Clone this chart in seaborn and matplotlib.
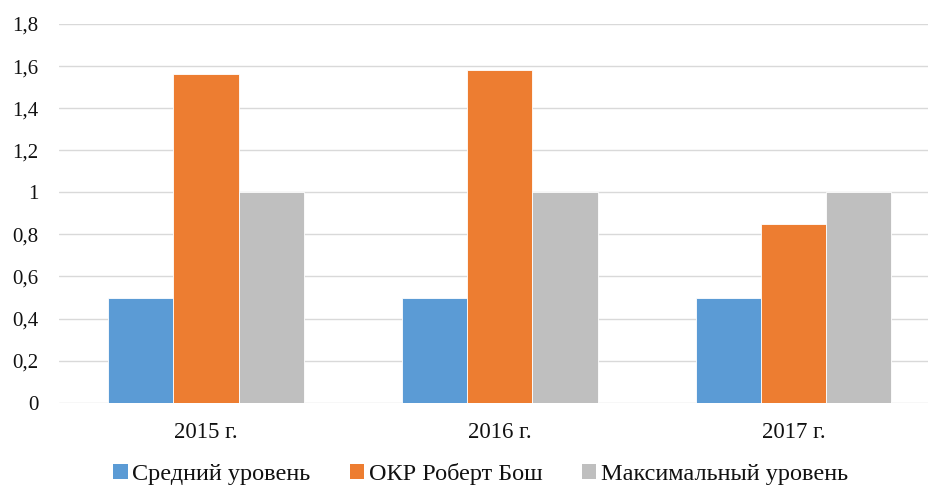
import matplotlib
matplotlib.use("Agg")
import matplotlib.pyplot as plt
from matplotlib.patches import Patch
import seaborn as sns
import pandas as pd

years = ["2015 г.", "2016 г.", "2017 г."]
series_names = ["Средний уровень", "ОКР Роберт Бош", "Максимальный уровень"]
avg_level = [0.5, 0.5, 0.5]
bosch_rnd = [1.56, 1.58, 0.85]
max_level = [1.0, 1.0, 1.0]
colors = ["#5B9BD5", "#ED7D31", "#BFBFBF"]
y_ticks = [0, 0.2, 0.4, 0.6, 0.8, 1.0, 1.2, 1.4, 1.6, 1.8]
y_tick_labels = ["0", "0,2", "0,4", "0,6", "0,8", "1", "1,2", "1,4", "1,6", "1,8"]

rows = []
for name, vals in zip(series_names, [avg_level, bosch_rnd, max_level]):
    for yr, v in zip(years, vals):
        rows.append({"year": yr, "series": name, "value": v})
df = pd.DataFrame(rows)

sns.set_theme(style="white")
plt.rcParams["font.family"] = ["Liberation Serif", "DejaVu Serif"]

fig = plt.figure(figsize=(9.29, 4.88), dpi=100)
ax = fig.add_axes([59 / 929, 85.3 / 488, 881.4 / 929, 378.7 / 488])

sns.barplot(data=df, x="year", y="value", hue="series", order=years,
            hue_order=series_names, palette=colors, width=0.667, gap=0,
            edgecolor="white", linewidth=0.6, saturation=1, ax=ax,
            legend=False, zorder=3)

ax.set_ylim(0, 1.8)
ax.set_xlim(-0.5, 2.5)
ax.set_yticks(y_ticks)
ax.set_yticklabels(y_tick_labels)
ax.yaxis.grid(True, color="#D9D9D9", linewidth=1.0, zorder=0)
ax.set_axisbelow(True)
for s in ax.spines.values():
    s.set_visible(False)
ax.tick_params(axis="y", length=0, pad=15, labelsize=15, labelcolor="#111111")
ax.tick_params(axis="x", length=0, pad=14, labelsize=16.5, labelcolor="#111111")
ax.set_xlabel("")
ax.set_ylabel("")

handles = [Patch(facecolor=c, edgecolor="none") for c in colors]
fig.legend(handles, series_names, loc="center left",
           bbox_to_anchor=(113 / 929, 1 - 474 / 488), ncol=3, frameon=False,
           fontsize=17.5, handlelength=0.6, handleheight=0.6,
           handletextpad=0.2, columnspacing=1.6, borderpad=0, borderaxespad=0,
           labelcolor="#111111")

fig.savefig("out.png", dpi=100, facecolor="white")
